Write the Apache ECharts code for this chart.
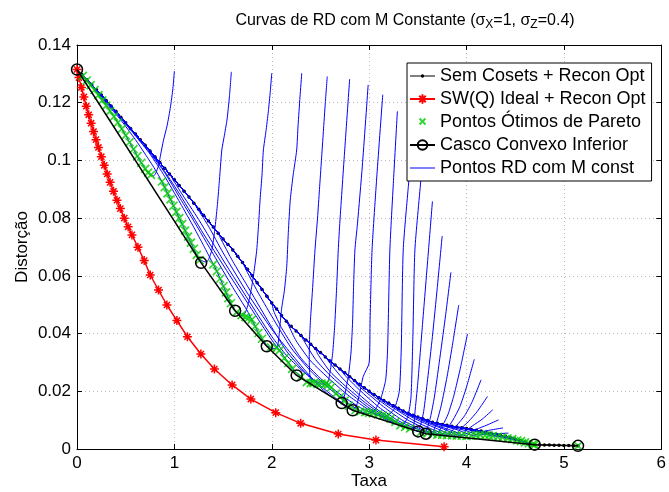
<!DOCTYPE html>
<html><head><meta charset="utf-8">
<script src="https://cdn.jsdelivr.net/npm/echarts@6/dist/echarts.min.js"></script>
<style>html,body{margin:0;padding:0;background:#fff}#c{width:669px;height:492px}</style>
</head><body><div id="c"></div>
<script>
// ---------------- DATA ----------------
const xTicks = [0, 1, 2, 3, 4, 5, 6];
const yTicks = [0, 0.02, 0.04, 0.06, 0.08, 0.1, 0.12, 0.14];

// "Sem Cosets + Recon Opt" (upper envelope)
const semCosets = [[0,0.1315],[0.05,0.1298],[0.1,0.1280],[0.15,0.1263],[0.2,0.1245],[0.25,0.1227],[0.3,0.1208],[0.35,0.1189],[0.4,0.1170],[0.45,0.1150],[0.5,0.1131],[0.55,0.1111],[0.6,0.1092],[0.65,0.1072],[0.7,0.1053],[0.75,0.1033],[0.8,0.1013],[0.85,0.0993],[0.9,0.0973],[0.95,0.0953],[1.0,0.0933],[1.05,0.0913],[1.1,0.0893],[1.15,0.0873],[1.2,0.0852],[1.25,0.0831],[1.3,0.0810],[1.35,0.0790],[1.4,0.0769],[1.45,0.0748],[1.5,0.0728],[1.55,0.0709],[1.6,0.0690],[1.65,0.0668],[1.7,0.0646],[1.75,0.0623],[1.8,0.0600],[1.85,0.0576],[1.9,0.0553],[1.95,0.0529],[2.0,0.0506],[2.05,0.0485],[2.1,0.0463],[2.15,0.0443],[2.2,0.0425],[2.25,0.0409],[2.3,0.0393],[2.35,0.0378],[2.4,0.0363],[2.45,0.0348],[2.5,0.0334],[2.55,0.0319],[2.6,0.0305],[2.65,0.0291],[2.7,0.0277],[2.75,0.0264],[2.8,0.0250],[2.85,0.0237],[2.9,0.0224],[2.95,0.0212],[3.0,0.0200],[3.05,0.0189],[3.1,0.0178],[3.15,0.0168],[3.2,0.0159],[3.25,0.0150],[3.3,0.0141],[3.35,0.0132],[3.4,0.0124],[3.45,0.0117],[3.5,0.0111],[3.55,0.0105],[3.6,0.0099],[3.65,0.0093],[3.7,0.0089],[3.75,0.0085],[3.8,0.0082],[3.85,0.0079],[3.9,0.0076],[3.95,0.0074],[4.0,0.0071],[4.05,0.0068],[4.1,0.0065],[4.15,0.0062],[4.2,0.0058],[4.25,0.0055],[4.3,0.0051],[4.35,0.0047],[4.4,0.0043],[4.45,0.0039],[4.5,0.0034],[4.55,0.0029],[4.6,0.0024],[4.65,0.0019],[4.7,0.0015],[4.75,0.0015],[4.8,0.0014],[4.85,0.0014],[4.9,0.0013],[4.95,0.0013],[5.0,0.0012],[5.05,0.0012],[5.1,0.0011],[5.145,0.0011]];

// "SW(Q) Ideal + Recon Opt"
const swIdeal = [[0,0.1315],[0.02,0.1287],[0.045,0.1253],[0.07,0.1220],[0.095,0.1188],[0.12,0.1158],[0.145,0.1129],[0.17,0.1100],[0.195,0.1072],[0.22,0.1045],[0.25,0.1013],[0.28,0.0983],[0.31,0.0953],[0.34,0.0924],[0.375,0.0893],[0.41,0.0862],[0.445,0.0833],[0.485,0.0800],[0.525,0.0770],[0.564,0.0742],[0.626,0.0699],[0.690,0.0653],[0.752,0.0603],[0.837,0.0551],[0.923,0.0499],[1.026,0.0445],[1.134,0.0389],[1.272,0.0329],[1.411,0.0277],[1.593,0.0222],[1.785,0.0173],[2.041,0.0126],[2.297,0.0089],[2.683,0.0052],[3.070,0.0031],[3.770,0.0008]];

// "Pontos Ótimos de Pareto"
const pareto = [[0.06,0.1293],[0.10,0.1277],[0.14,0.1261],[0.18,0.1244],[0.22,0.1226],[0.26,0.1208],[0.30,0.1190],[0.34,0.1171],[0.38,0.1152],[0.42,0.1131],[0.46,0.1109],[0.50,0.1087],[0.54,0.1063],[0.58,0.1039],[0.62,0.1015],[0.66,0.0992],[0.70,0.0971],[0.73,0.0958],[0.76,0.0950],
[0.872,0.0927],[0.90,0.0907],[0.93,0.0886],[0.96,0.0865],[0.99,0.0843],[1.02,0.0822],[1.05,0.0800],[1.08,0.0779],[1.11,0.0757],[1.14,0.0736],[1.17,0.0715],[1.20,0.0694],[1.23,0.0673],[1.26,0.0655],
[1.40,0.0640],[1.436,0.0616],[1.47,0.0590],[1.504,0.0564],[1.53,0.0543],[1.555,0.0523],[1.58,0.0505],[1.64,0.0474],[1.69,0.0464],[1.73,0.0457],[1.76,0.0454],[1.795,0.0448],
[1.83,0.0425],[1.863,0.0402],[1.90,0.0382],[1.99,0.0352],[2.05,0.0350],[2.08,0.0342],
[2.13,0.0315],[2.17,0.0298],[2.21,0.0278],[2.30,0.0250],[2.36,0.0232],[2.40,0.0228],[2.43,0.0228],[2.47,0.0226],[2.51,0.0227],[2.55,0.0226],[2.58,0.0222],[2.61,0.0214],
[2.66,0.0192],[2.70,0.0180],[2.75,0.0168],[2.79,0.0150],[2.86,0.0135],[2.91,0.0130],[2.96,0.0128],[3.00,0.0125],[3.04,0.0124],[3.09,0.0120],[3.14,0.0116],[3.18,0.0113],[3.22,0.0105],[3.27,0.0094],[3.32,0.0082],[3.37,0.0077],[3.42,0.0071],
[3.53,0.0058],[3.60,0.0055],[3.65,0.0052],[3.70,0.0050],[3.75,0.0049],[3.80,0.0048],[3.85,0.0047],[3.90,0.0046],[3.95,0.0046],[4.00,0.0045],[4.05,0.0046],[4.10,0.0047],[4.14,0.0049],[4.19,0.0047],[4.23,0.0046],[4.27,0.0045],[4.32,0.0042],[4.37,0.0040],[4.42,0.0037],[4.47,0.0034],[4.52,0.0030],[4.56,0.0027],[4.60,0.0023],[4.64,0.0020],[4.68,0.0016],[4.70,0.0015],[5.145,0.0011]];

// "Casco Convexo Inferior"
const hull = [[0,0.1315],[1.275,0.0645],[1.624,0.0479],[1.949,0.0356],[2.256,0.0255],[2.718,0.0159],[2.831,0.0134],[3.504,0.0061],[3.583,0.0053],[4.70,0.0015],[5.145,0.0011]];

// "Pontos RD com M const" — one curve per M
const curveM2 = [[1.0,0.1310],[0.985,0.1250],[0.96,0.1186],[0.925,0.1120],[0.888,0.1070],[0.86,0.1022],[0.837,0.0982],[0.81,0.0957],[0.786,0.0946],[0.765,0.0950],[0.73,0.0958],[0.70,0.0971],[0.66,0.0992],[0.62,0.1015],[0.58,0.1039],[0.54,0.1063],[0.50,0.1087],[0.46,0.1109],[0.42,0.1131],[0.38,0.1152],[0.34,0.1171],[0.30,0.1190],[0.26,0.1208],[0.22,0.1226],[0.18,0.1244],[0.14,0.1261],[0.10,0.1277],[0.06,0.1293],[0,0.1315]];
const curveM3 = [[1.585,0.1307],[1.565,0.1220],[1.54,0.1140],[1.51,0.1080],[1.487,0.1036],[1.46,0.0920],[1.44,0.0840],[1.415,0.0760],[1.385,0.0690],[1.355,0.0660],[1.33,0.0648],[1.30,0.0650],[1.26,0.0657],[1.23,0.0673],[1.20,0.0694],[1.17,0.0715],[1.14,0.0736],[1.11,0.0757],[1.08,0.0779],[1.05,0.0800],[1.02,0.0822],[0.99,0.0843],[0.96,0.0865],[0.93,0.0886],[0.90,0.0907],[0.872,0.0927],[0.80,0.0970],[0.70,0.1022],[0.60,0.1072],[0.45,0.1140],[0.30,0.1198],[0.15,0.1257],[0,0.1315]];
const curveM4 = [[2.0,0.1302],[1.985,0.1240],[1.965,0.1170],[1.94,0.1100],[1.914,0.1036],[1.90,0.0950],[1.88,0.0863],[1.865,0.0780],[1.846,0.0690],[1.82,0.0620],[1.795,0.0564],[1.76,0.0505],[1.73,0.0474],[1.70,0.0462],[1.67,0.0464],[1.64,0.0474],[1.60,0.0492],[1.555,0.0523],[1.504,0.0564],[1.47,0.0590],[1.436,0.0616],[1.40,0.0640],[1.30,0.0705],[1.20,0.0768],[1.06,0.0852],[0.90,0.0945],[0.75,0.1022],[0.60,0.1086],[0.45,0.1145],[0.30,0.1203],[0.15,0.1261],[0,0.1315]];
const curveM5 = [[2.308,0.1302],[2.29,0.1220],[2.27,0.1120],[2.256,0.1036],[2.22,0.0950],[2.19,0.0863],[2.17,0.0750],[2.154,0.0633],[2.13,0.0550],[2.10,0.0483],[2.08,0.0410],[2.065,0.0365],[2.05,0.0348],[2.00,0.0350],[1.949,0.0358],[1.90,0.0382],[1.863,0.0402],[1.83,0.0425],[1.75,0.0478],[1.60,0.0560],[1.40,0.0675],[1.20,0.0790],[1.06,0.0868],[0.90,0.0958],[0.75,0.1026],[0.60,0.1087]];
const curveM6 = [[2.57,0.1291],[2.55,0.1200],[2.53,0.1100],[2.51,0.1000],[2.49,0.0900],[2.47,0.0800],[2.444,0.0690],[2.42,0.0560],[2.40,0.0460],[2.39,0.0396],[2.385,0.0320],[2.39,0.0260],[2.41,0.0230],[2.36,0.0234],[2.30,0.0252],[2.256,0.0262],[2.17,0.0300],[2.10,0.0332],[2.00,0.0378],[1.85,0.0455],[1.60,0.0585],[1.30,0.0745],[1.06,0.0880],[0.90,0.0962],[0.78,0.1017]];
const curveM7 = [[2.80,0.1282],[2.75,0.1040],[2.70,0.0790],[2.683,0.0690],[2.665,0.0550],[2.645,0.0420],[2.625,0.0330],[2.60,0.0270],[2.58,0.0235],[2.55,0.0224],[2.50,0.0227],[2.43,0.0240],[2.30,0.0275],[2.15,0.0325],[2.00,0.0390],[1.80,0.0495],[1.50,0.0655],[1.25,0.0795],[1.06,0.0893],[0.98,0.0937]];
const curveM8 = [[2.99,0.1262],[2.93,0.0980],[2.88,0.0780],[2.854,0.0690],[2.84,0.0560],[2.83,0.0440],[2.815,0.0340],[2.79,0.0260],[2.76,0.0205],[2.74,0.0175],[2.72,0.0162],[2.66,0.0175],[2.55,0.0205],[2.40,0.0250],[2.20,0.0330],[2.00,0.0415],[1.75,0.0540],[1.50,0.0680],[1.35,0.0772],[1.25,0.0826]];
const curveM9 = [[3.14,0.1228],[3.08,0.0950],[3.03,0.0690],[3.01,0.0450],[3.00,0.0298],[2.94,0.0252],[2.90,0.0190],[2.87,0.0150],[2.83,0.0136],[2.78,0.0142],[2.70,0.0160],[2.55,0.0198],[2.35,0.0262],[2.15,0.0340],[1.95,0.0450],[1.75,0.0565],[1.60,0.0650],[1.47,0.0733]];
const curveM10 = [[3.29,0.1170],[3.25,0.0930],[3.213,0.0690],[3.19,0.0350],[3.17,0.0240],[3.12,0.0175],[3.06,0.0135],[3.00,0.0123],[2.93,0.0128],[2.80,0.0155],[2.60,0.0207],[2.40,0.0270],[2.20,0.0350],[2.00,0.0460],[1.85,0.0548],[1.75,0.0612]];
const curveM11 = [[3.46,0.1120],[3.40,0.0900],[3.35,0.0690],[3.33,0.0350],[3.31,0.0200],[3.26,0.0140],[3.20,0.0118],[3.15,0.0112],[3.05,0.0122],[2.90,0.0145],[2.70,0.0190],[2.50,0.0245],[2.30,0.0315],[2.10,0.0420],[2.02,0.0478]];
const curveM12 = [[3.585,0.1150],[3.53,0.0928],[3.47,0.0690],[3.45,0.0400],[3.43,0.0180],[3.40,0.0115],[3.36,0.0088],[3.32,0.0082],[3.20,0.0097],[3.00,0.0135],[2.80,0.0182],[2.60,0.0240],[2.40,0.0305],[2.25,0.0375],[2.17,0.0430]];
const curveM13 = [[3.65,0.0858],[3.61,0.0690],[3.55,0.0440],[3.50,0.0230],[3.47,0.0125],[3.46,0.0085],[3.44,0.0070],[3.35,0.0077],[3.20,0.0101],[3.00,0.0142],[2.80,0.0195],[2.60,0.0255],[2.45,0.0310],[2.33,0.0375]];
const curveM14 = [[3.75,0.0738],[3.70,0.0560],[3.65,0.0390],[3.60,0.0240],[3.56,0.0130],[3.53,0.0085],[3.50,0.0062],[3.40,0.0073],[3.20,0.0105],[3.00,0.0150],[2.80,0.0205],[2.60,0.0268],[2.47,0.0330]];
const curveM15 = [[3.84,0.0612],[3.78,0.0450],[3.72,0.0300],[3.67,0.0180],[3.63,0.0110],[3.60,0.0075],[3.57,0.0055],[3.45,0.0068],[3.25,0.0100],[3.05,0.0145],[2.85,0.0203],[2.70,0.0255],[2.60,0.0297]];
const curveM16 = [[3.92,0.0499],[3.86,0.0370],[3.80,0.0250],[3.74,0.0150],[3.70,0.0100],[3.67,0.0070],[3.65,0.0054],[3.50,0.0068],[3.30,0.0098],[3.10,0.0145],[2.90,0.0205],[2.75,0.0256]];
const curveM17 = [[4.01,0.0399],[3.94,0.0285],[3.87,0.0185],[3.81,0.0120],[3.76,0.0085],[3.72,0.0062],[3.70,0.0051],[3.55,0.0067],[3.35,0.0098],[3.15,0.0146],[3.00,0.0188],[2.88,0.0222]];
const curveM18 = [[4.08,0.0311],[4.00,0.0215],[3.93,0.0145],[3.86,0.0100],[3.80,0.0070],[3.75,0.0050],[3.60,0.0067],[3.40,0.0100],[3.20,0.0145],[3.02,0.0190]];
const curveM19 = [[4.15,0.0240],[4.06,0.0165],[3.98,0.0115],[3.90,0.0082],[3.85,0.0062],[3.82,0.0048],[3.65,0.0068],[3.45,0.0100],[3.28,0.0136],[3.15,0.0163]];
const curveM20 = [[4.215,0.0182],[4.11,0.0130],[4.02,0.0095],[3.94,0.0070],[3.88,0.0047],[3.70,0.0070],[3.50,0.0100],[3.35,0.0126],[3.28,0.0140]];
const curveM21 = [[4.27,0.0136],[4.16,0.0103],[4.06,0.0080],[3.99,0.0062],[3.94,0.0046],[3.78,0.0067],[3.60,0.0090],[3.48,0.0108],[3.40,0.0120]];
const curveM22 = [[4.33,0.0101],[4.21,0.0083],[4.10,0.0068],[4.03,0.0055],[4.00,0.0045],[3.85,0.0064],[3.68,0.0083],[3.55,0.0101]];
const curveM23 = [[4.375,0.0073],[4.25,0.0066],[4.14,0.0058],[4.07,0.0046],[3.92,0.0065],[3.78,0.0078],[3.68,0.0087]];
const curveM24 = [[4.43,0.0055],[4.30,0.0053],[4.19,0.0051],[4.13,0.0048],[4.00,0.0063],[3.88,0.0073],[3.80,0.0080]];
const curveM25 = [[4.50,0.0040],[4.35,0.0043],[4.25,0.0046],[4.10,0.0060],[3.95,0.0072]];
const curveM26 = [[4.56,0.0030],[4.45,0.0035],[4.37,0.0040],[4.20,0.0055],[4.08,0.0065]];
const curveM27 = [[4.62,0.0023],[4.50,0.0031],[4.35,0.0045],[4.22,0.0055]];
const curveM28 = [[4.67,0.0017],[4.60,0.0023],[4.45,0.0037],[4.35,0.0046]];
const rdCurves = [curveM2,curveM3,curveM4,curveM5,curveM6,curveM7,curveM8,curveM9,curveM10,curveM11,curveM12,curveM13,curveM14,curveM15,curveM16,curveM17,curveM18,curveM19,curveM20,curveM21,curveM22,curveM23,curveM24,curveM25,curveM26,curveM27,curveM28];

const legendNames = ['Sem Cosets + Recon Opt','SW(Q) Ideal + Recon Opt','Pontos \u00d3timos de Pareto','Casco Convexo Inferior','Pontos RD com M const'];

// ---------------- CHART ----------------
const FONT = "'Liberation Sans', Arial, Helvetica, sans-serif";
// each constant-M curve rejoins the "Sem Cosets" curve at low rate
function joinEnvelope(curve) {
  const lastX = curve[curve.length - 1][0];
  const tail = semCosets.filter(p => p[0] < lastX - 1e-9).slice().reverse();
  return curve.concat(tail);
}
const ASTER = 'path://M5 0L5 10M0 5L10 5M1.6 1.6L8.4 8.4M1.6 8.4L8.4 1.6';
const XMARK = 'path://M0 0L10 10M0 10L10 0';
// legend icons drawn inside a 25x12 box (first two moves fix the box)
const ICON_LINE = 'path://M0 0M25 12M0 5.5H25V6.5H0Z';
const ICON_LINE_DOT = 'path://M0 0M25 12M0 5.5H25V6.5H0Z M10.8 6A1.7 1.7 0 1 1 14.2 6A1.7 1.7 0 1 1 10.8 6Z';
const ICON_X = 'path://M0 0M25 12M9.5 2.5L15.5 8.5M9.5 8.5L15.5 2.5';

const series = [];
series.push({
  name: legendNames[0], type: 'line', data: semCosets, symbol: 'circle', symbolSize: 3.5, showSymbol: true,
  lineStyle: { color: '#000', width: 1 }, itemStyle: { color: '#000' }, z: 2, silent: true
});
series.push({
  name: legendNames[1], type: 'line', data: swIdeal, symbol: ASTER, symbolSize: 9,
  lineStyle: { color: '#ff0000', width: 1.5 }, itemStyle: { color: '#ff0000', borderColor: '#ff0000', borderWidth: 1.5 }, z: 3, silent: true
});
series.push({
  name: legendNames[2], type: 'scatter', data: pareto, symbol: XMARK, symbolSize: 8,
  itemStyle: { color: '#00cc00', borderColor: '#00cc00', borderWidth: 1.7 }, z: 3, silent: true
});
series.push({
  name: legendNames[3], type: 'line', data: hull, symbol: 'circle', symbolSize: 11,
  lineStyle: { color: '#000', width: 1.5 }, itemStyle: { color: 'rgba(0,0,0,0)', borderColor: '#000', borderWidth: 1.5 }, z: 4, silent: true
});
rdCurves.forEach(c => {
  series.push({
    name: legendNames[4], type: 'line', data: joinEnvelope(c), symbol: 'none', showSymbol: false, smooth: 0.2,
    lineStyle: { color: '#0000ff', width: 1 }, itemStyle: { color: '#0000ff' }, z: 3, silent: true
  });
});

const axisCommon = {
  axisLine: { show: true, onZero: false, lineStyle: { color: '#000', width: 1 } },
  axisTick: { show: true, inside: true, length: 5, lineStyle: { color: '#000' } }
};

const chart = echarts.init(document.getElementById('c'), null, { renderer: 'canvas' });
chart.setOption({
  animation: false,
  backgroundColor: '#fff',
  textStyle: { fontFamily: FONT },
  title: {
    text: 'Curvas de RD com M Constante (\u03c3{s|X}=1, \u03c3{s|Z}=0.4)',
    left: 400, top: 5, textAlign: 'center',
    textStyle: { fontFamily: FONT, fontSize: 16, fontWeight: 'normal', color: '#000',
      rich: { s: { fontFamily: FONT, fontSize: 12, color: '#000', padding: [9, 0, 0, 0] } } }
  },
  grid: { left: 77, right: 7, top: 45, bottom: 43, containLabel: false },
  legend: {
    orient: 'vertical', left: 407, top: 63, backgroundColor: '#fff', borderColor: '#000', borderWidth: 1, borderRadius: 0,
    padding: [4, 6, 4, 2], itemGap: 5, itemWidth: 25, itemHeight: 12,
    textStyle: { fontFamily: FONT, fontSize: 18, color: '#000', lineHeight: 18 },
    data: [
      { name: legendNames[0], icon: ICON_LINE_DOT },
      { name: legendNames[1] },
      { name: legendNames[2], icon: ICON_X },
      { name: legendNames[3] },
      { name: legendNames[4], icon: ICON_LINE }
    ]
  },
  xAxis: [
    Object.assign({ type: 'value', min: xTicks[0], max: xTicks[xTicks.length - 1], interval: 1, position: 'bottom',
      axisLabel: { color: '#000', fontSize: 17, fontFamily: FONT, margin: 6 },
      splitLine: { show: true, lineStyle: { color: '#b8b8b8', type: [1, 3], width: 1 } } }, axisCommon),
    Object.assign({ type: 'value', min: xTicks[0], max: xTicks[xTicks.length - 1], interval: 1, position: 'top',
      axisLabel: { show: false }, splitLine: { show: false } }, axisCommon)
  ],
  yAxis: [
    Object.assign({ type: 'value', min: yTicks[0], max: yTicks[yTicks.length - 1], interval: 0.02, position: 'left',
      axisLabel: { color: '#000', fontSize: 17, fontFamily: FONT, margin: 6 },
      splitLine: { show: true, lineStyle: { color: '#b8b8b8', type: [1, 3], width: 1 } } }, axisCommon),
    Object.assign({ type: 'value', min: yTicks[0], max: yTicks[yTicks.length - 1], interval: 0.02, position: 'right',
      axisLabel: { show: false }, splitLine: { show: false } }, axisCommon)
  ],
  graphic: [
    { type: 'text', x: 369, y: 481, style: { text: 'Taxa', fill: '#000', font: '17px ' + FONT, textAlign: 'center', textVerticalAlign: 'middle' } },
    { type: 'text', x: 22, y: 247, rotation: Math.PI / 2, style: { text: 'Distor\u00e7\u00e3o', fill: '#000', font: '17px ' + FONT, textAlign: 'center', textVerticalAlign: 'middle' } }
  ],
  series: series
});
</script>
</body></html>
